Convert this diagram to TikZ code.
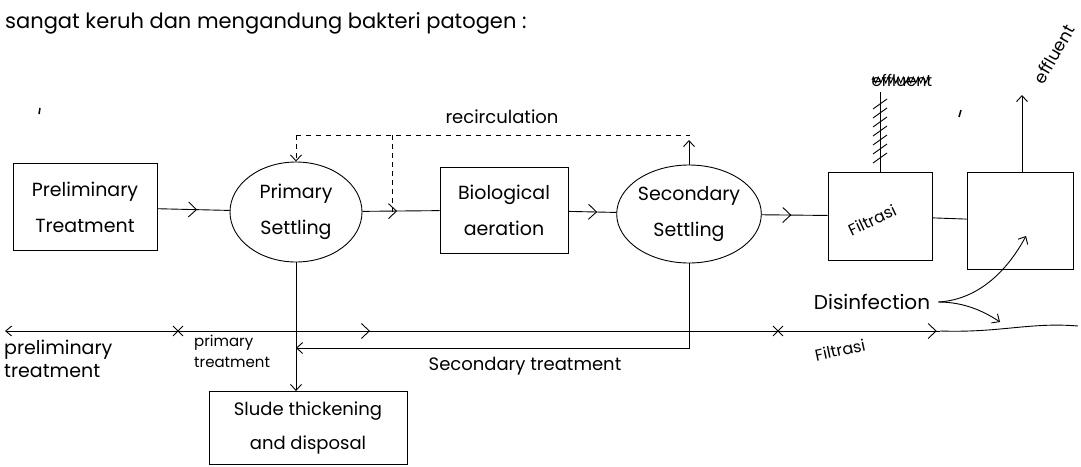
\documentclass[tikz,border=0pt]{standalone}
\usepackage{fontspec}
\setmainfont{Poppins}
\usetikzlibrary{arrows.meta,decorations.markings,decorations.pathmorphing,shapes.geometric,shapes.misc}
\tikzset{
  ink/.style={line width=0.9pt, black},
  box/.style={ink, draw, rectangle, align=center, inner sep=0pt, font=\fontsize{19}{36}\selectfont},
  oval/.style={ink, draw, ellipse, align=center, inner sep=0pt, font=\fontsize{19}{36}\selectfont},
  lbl/.style={font=\fontsize{18}{24}\selectfont, inner sep=0pt},
  tip/.style={-{Straight Barb[length=6pt,width=11pt]}},
  midarr/.style={postaction={decorate}, decoration={markings, mark=at position #1 with {\arrow{Straight Barb[length=8pt,width=15pt]}}}},
  xmark/.style={ink, draw, cross out, minimum size=9pt, inner sep=0pt},
}
\begin{document}
\begin{tikzpicture}[x=1pt,y=-1pt]
\useasboundingbox (0,0) rectangle (1081,466);
% heading
\node[lbl, anchor=west, font=\fontsize{21}{24}\selectfont] (head) at (5,23) {sangat keruh dan mengandung bakteri patogen :};

% main nodes
\node[box, minimum width=144pt, minimum height=87pt] (pre) at (85,207) {Preliminary\\Treatment};
\node[oval, minimum width=132pt, minimum height=100pt] (pri) at (296,212) {Primary\\Settling};
\node[box, minimum width=128pt, minimum height=86pt] (bio) at (504,210) {Biological\\aeration};
\node[oval, minimum width=132pt, minimum height=98pt] (sec) at (689,214) {Secondary\\Settling};
\node[box, minimum width=104pt, minimum height=88pt] (fil) at (880,216) {};
\node[lbl, rotate=25, font=\fontsize{16}{18}\selectfont] (filtxt) at (872,220) {Filtrasi};
\node[box, minimum width=106pt, minimum height=97pt] (dis) at (1020,221) {};
\node[box, minimum width=198pt, minimum height=73pt, font=\fontsize{18}{34}\selectfont] (sl) at (308,428) {Slude thickening\\and disposal};

% flow
\draw[ink, midarr=0.55] (pre) -- (pri);
\draw[ink, midarr=0.45] (pri) -- (bio);
\draw[ink, midarr=0.6] (bio) -- (sec);
\draw[ink, midarr=0.45] (sec) -- (fil);
\draw[ink] (fil) -- (dis);

% recirculation
\coordinate (rL) at (296,135);
\coordinate (rM) at (392,135);
\coordinate (rR) at (690,135);
\coordinate (rS) at (689,140);
\node[lbl] (rec) at (502,117) {recirculation};
\draw[ink, dashed, dash pattern=on 5pt off 5pt] (rL) -- (rR);
\draw[ink, dashed, dash pattern=on 5pt off 4pt, tip] (rL) -- (pri.north);
\draw[ink, dashed, dash pattern=on 5pt off 4pt] (rM) -- (rM |- pri.east);
\draw[ink, tip] (sec.north) -- (rS);

% sludge lines
\coordinate (ret) at (296,348);
\draw[ink, tip] (pri.south) -- (pri.south |- sl.north);
\draw[ink, tip] (sec.south) |- (ret);

% effluent from filter (crossed out)
\coordinate (ftop) at (880,92);
\draw[ink] (fil.north) -- (ftop);
\foreach \y in {104,113,...,158} \draw[ink] (873,\y+5) -- (887,\y-5);
\node[lbl, font=\fontsize{16}{18}\selectfont] (eff1) at (902,80) {effluent};
\draw[ink, decorate, decoration={zigzag, segment length=5pt, amplitude=3pt}] (872,80) -- (930,80);

% effluent from disinfection
\coordinate (etop) at (1022,95);
\draw[ink, tip] (dis.north -| etop) -- (etop);
\node[lbl, rotate=60, font=\fontsize{17}{20}\selectfont] (eff2) at (1054,54) {effluent};

% disinfection
\node[lbl, font=\fontsize{20}{24}\selectfont] (dtxt) at (872,302) {Disinfection};
\coordinate (d1) at (1026,236);
\coordinate (d2) at (1000,322);
\draw[ink, tip] (dtxt.east) ++(8pt,0) .. controls (975,300) and (1005,275) .. (d1);
\draw[ink, tip] (dtxt.east) ++(8pt,0) .. controls (965,302) and (985,312) .. (d2);

% timeline
\coordinate (t0) at (5,331);
\coordinate (x1) at (178,331);
\coordinate (x2) at (778,331);
\coordinate (t1) at (940,331);
\coordinate (tend) at (1078,326);
\draw[ink, {Straight Barb[length=6pt,width=10pt]}-] (t0) -- (x1);
\draw[ink, midarr=0.32] (x1) -- (x2);
\draw[ink, midarr=0.98] (x2) -- (t1);
\draw[ink] (t1) .. controls (1000,333) and (1030,322) .. (tend);
\node[xmark] (xm1) at (x1) {};
\node[xmark] (xm2) at (x2) {};

% stage labels
\node[lbl, anchor=north west, align=left, font=\fontsize{19}{23}\selectfont] (lpre) at (4,340) {preliminary\\treatment};
\node[lbl, anchor=north west, align=left, font=\fontsize{15}{21}\selectfont] (lpri) at (194,335) {primary\\treatment};
\node[lbl] (lsec) at (525,366) {Secondary treatment};
\node[lbl, rotate=12, font=\fontsize{16}{18}\selectfont] (lfil) at (840,350) {Filtrasi};

% stray pen marks
\draw[ink, line width=1.5pt] (40,108) -- (39,114);
\draw[ink, line width=1.5pt] (961,110) -- (959,117);
\end{tikzpicture}
\end{document}
